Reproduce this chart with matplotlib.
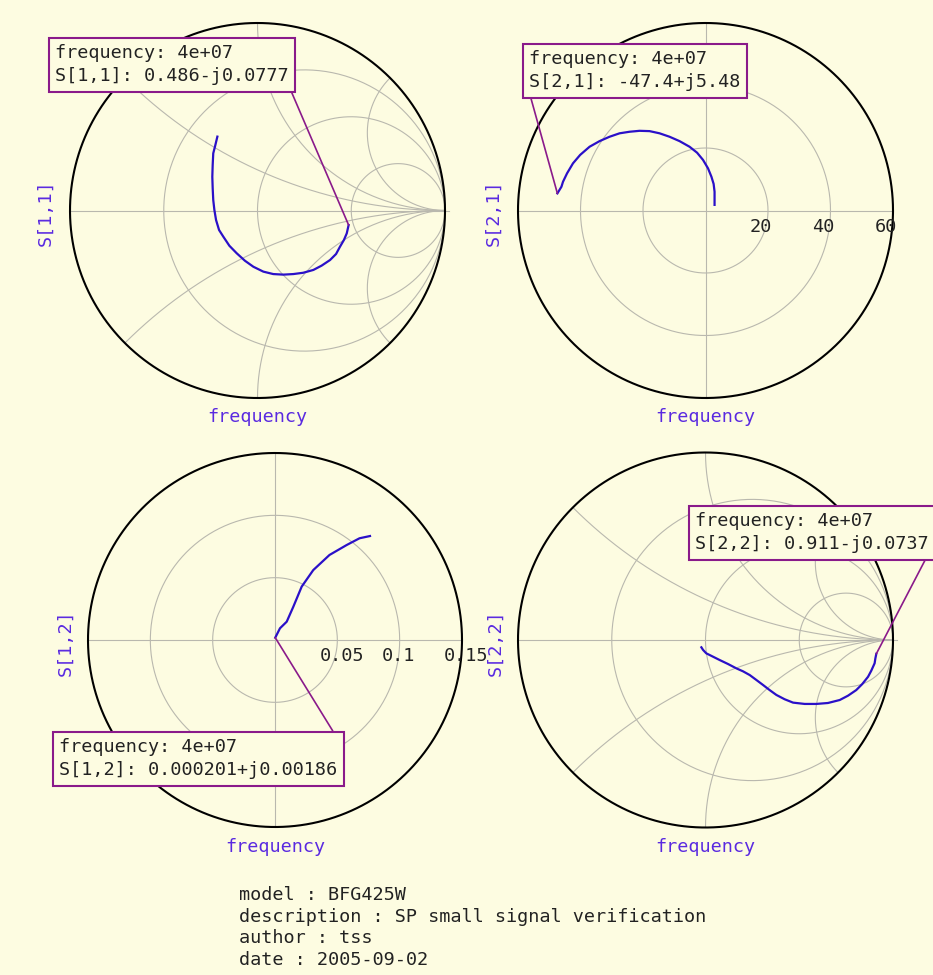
#!/usr/bin/env python3
# -*- coding: utf-8 -*-
"""
plot.py

four S-parameter panels (two Smith charts, two polar plots) with
frequency markers, plus the model notes underneath
"""

import numpy as np
import matplotlib
matplotlib.use('Agg')
import matplotlib.pyplot as plt

s11_re = [0.486, 0.476, 0.461, 0.440, 0.419, 0.387, 0.342, 0.298, 0.244,
          0.191, 0.138, 0.084, 0.031, -0.022, -0.067, -0.111, -0.150, -0.182,
          -0.205, -0.221, -0.230, -0.236, -0.239, -0.241, -0.239, -0.236,
          -0.227, -0.214]
s11_im = [-0.0777, -0.122, -0.157, -0.193, -0.232, -0.264, -0.294, -0.317,
          -0.332, -0.339, -0.342, -0.339, -0.326, -0.300, -0.268, -0.228,
          -0.188, -0.140, -0.104, -0.051, 0.003, 0.056, 0.118, 0.180, 0.243,
          0.305, 0.340, 0.394]

s21_re = [-47.4, -46.1, -45.6, -44.3, -42.4, -40.1, -37.1, -33.9, -30.7,
          -27.5, -24.3, -21.1, -17.9, -14.7, -11.5, -8.3, -5.1, -2.7, -0.8,
          0.8, 1.9, 2.6, 2.9, 2.9, 2.9]
s21_im = [5.48, 7.6, 9.2, 11.9, 15.1, 17.8, 20.4, 22.2, 23.6, 24.7, 25.2,
          25.5, 25.4, 24.7, 23.6, 22.2, 20.4, 18.5, 16.2, 13.5, 10.8, 8.5,
          6.0, 3.9, 1.8]

s12_re = [0.000201, 0.0040, 0.0094, 0.0147, 0.0214, 0.0307, 0.0437, 0.0575,
          0.0678, 0.0762]
s12_im = [0.00186, 0.0094, 0.0147, 0.0267, 0.0428, 0.0561, 0.0682, 0.0762,
          0.0816, 0.0834]

s22_re = [0.911, 0.906, 0.902, 0.884, 0.867, 0.836, 0.804, 0.760, 0.716,
          0.653, 0.591, 0.529, 0.467, 0.422, 0.378, 0.342, 0.307, 0.271,
          0.236, 0.200, 0.164, 0.120, 0.076, 0.040, 0.004, -0.013, -0.022]
s22_im = [-0.0737, -0.098, -0.124, -0.164, -0.196, -0.235, -0.267, -0.297,
          -0.320, -0.336, -0.341, -0.341, -0.334, -0.316, -0.293, -0.267,
          -0.240, -0.213, -0.187, -0.167, -0.151, -0.128, -0.107, -0.089,
          -0.071, -0.053, -0.039]

markerLabels = ['frequency: 4e+07\nS[1,1]: 0.486-j0.0777',
                'frequency: 4e+07\nS[2,1]: -47.4+j5.48',
                'frequency: 4e+07\nS[1,2]: 0.000201+j0.00186',
                'frequency: 4e+07\nS[2,2]: 0.911-j0.0737']
yLabels = ['S[1,1]', 'S[2,1]', 'S[1,2]', 'S[2,2]']
s21Ticks = [20, 40, 60]
s12Ticks = [0.05, 0.1, 0.15]
s12TickLabels = ['0.05', '0.1', '0.15']
smithRe = [-0.5, 0.0, 0.5]          # left edge of the Re(z)=const circles
smithIm = [0.414, 1.0, 2.414]       # Im(z)=const arcs
notes = ['model : BFG425W',
         'description : SP small signal verification',
         'author : tss',
         'date : 2005-09-02']

#   look
W, H = 933, 975
BG = '#fdfce1'
GRID = '#b9b8ae'
CURVE = '#2a10c8'
LABEL = '#5a2ae0'
BOX = '#8a1a8a'
FONT = 'DejaVu Sans Mono'
FS = 13.3

plt.rcParams['font.family'] = FONT

fig = plt.figure(figsize=(W / 100, H / 100), dpi=100, facecolor=BG)


def panel(cx, cy, R, scale, k=1.1):
    #   square axes centred on pixel (cx, cy), outer ring radius R pixels
    ax = fig.add_axes([(cx - k * R) / W, 1 - (cy + k * R) / H,
                       2 * k * R / W, 2 * k * R / H])
    ax.set_xlim(-k * scale, k * scale)
    ax.set_ylim(-k * scale, k * scale)
    ax.axis('off')
    ax.patch.set_alpha(0)
    return ax


def circle(ax, xc, yc, r, color, lw, t0=0, t1=2 * np.pi):
    t = np.linspace(t0, t1, 400)
    ax.plot(xc + r * np.cos(t), yc + r * np.sin(t), color=color, lw=lw,
            clip_on=False, solid_capstyle='butt')


def smith(ax):
    ax.plot([-1, 1.02], [0, 0], color=GRID, lw=0.8, clip_on=False)
    for g in smithRe:
        circle(ax, (g + 1) / 2, 0, (1 - g) / 2, GRID, 0.8)
    for x in smithIm:
        gx = (x * x - 1) / (x * x + 1)
        gy = 2 * x / (x * x + 1)
        for sgn in (1, -1):
            a = np.mod(np.arctan2(gy - 1 / x, gx - 1), 2 * np.pi)
            t = np.linspace(a, 1.5 * np.pi, 300)
            ax.plot(1 + np.cos(t) / x, sgn * (1 / x + np.sin(t) / x),
                    color=GRID, lw=0.8, clip_on=False)
    circle(ax, 0, 0, 1, 'black', 1.5)


def polar(ax, ticks, labels):
    rmax = ticks[-1]
    ax.plot([-rmax, rmax], [0, 0], color=GRID, lw=0.8)
    ax.plot([0, 0], [-rmax, rmax], color=GRID, lw=0.8)
    for r in ticks[:-1]:
        circle(ax, 0, 0, r, GRID, 0.8)
    circle(ax, 0, 0, rmax, 'black', 1.5)
    for r, s in zip(ticks, labels):
        ax.annotate(s, xy=(r, 0), xytext=(-18, -16), textcoords='offset pixels',
                    ha='left', va='center', fontsize=FS, color='#222222',
                    annotation_clip=False)


def marker(ax, x, y, text, boxLeft, boxTop, relpos):
    ax.annotate(text, xy=(x, y), xytext=(boxLeft + 7, H - boxTop - 6),
                textcoords='figure pixels', ha='left', va='top',
                fontsize=FS, color='#222222', linespacing=1.38,
                bbox=dict(boxstyle='square,pad=0.35', fc=BG, ec=BOX, lw=1.5),
                arrowprops=dict(arrowstyle='-', color=BOX, lw=1.2,
                                relpos=relpos, shrinkA=0, shrinkB=0),
                annotation_clip=False, zorder=10)


#   S[1,1] smith chart, top left
ax = panel(257.5, 210.5, 187.5, 1.0)
smith(ax)
ax.plot(s11_re, s11_im, color=CURVE, lw=1.6, zorder=5)
marker(ax, s11_re[0], s11_im[0], markerLabels[0], 48, 38, (1, 0))

#   S[2,1] polar, top right
ax = panel(705.5, 210.5, 187.5, 60.0)
polar(ax, s21Ticks, [str(t) for t in s21Ticks])
ax.plot(s21_re, s21_im, color=CURVE, lw=1.6, zorder=5)
marker(ax, s21_re[0], s21_im[0], markerLabels[1], 522, 44, (0, 0))

#   S[1,2] polar, bottom left
ax = panel(275, 640, 187, 0.15)
polar(ax, s12Ticks, s12TickLabels)
ax.plot(s12_re, s12_im, color=CURVE, lw=1.6, zorder=5)
marker(ax, s12_re[0], s12_im[0], markerLabels[2], 52, 732, (1, 1))

#   S[2,2] smith chart, bottom right
ax = panel(705.5, 640, 187.5, 1.0)
smith(ax)
ax.plot(s22_re, s22_im, color=CURVE, lw=1.6, zorder=5)
marker(ax, s22_re[0], s22_im[0], markerLabels[3], 688, 506, (1, 0))

#   axis labels
for (xl, yl), s in zip([(45, 213), (493, 213), (65, 643), (495, 643)], yLabels):
    fig.text(xl / W, 1 - yl / H, s, rotation=90, ha='center', va='center',
             color=LABEL, fontsize=FS)
for xf, yf in [(257, 417), (705, 417), (275, 847), (705, 847)]:
    fig.text(xf / W, 1 - yf / H, 'frequency', ha='center', va='center',
             color=LABEL, fontsize=FS)

#   model notes
for i, s in enumerate(notes):
    fig.text(239 / W, 1 - (895 + 21.7 * i) / H, s, ha='left', va='center',
             color='#222222', fontsize=FS)

plt.savefig('out.png', dpi=100, facecolor=BG)
